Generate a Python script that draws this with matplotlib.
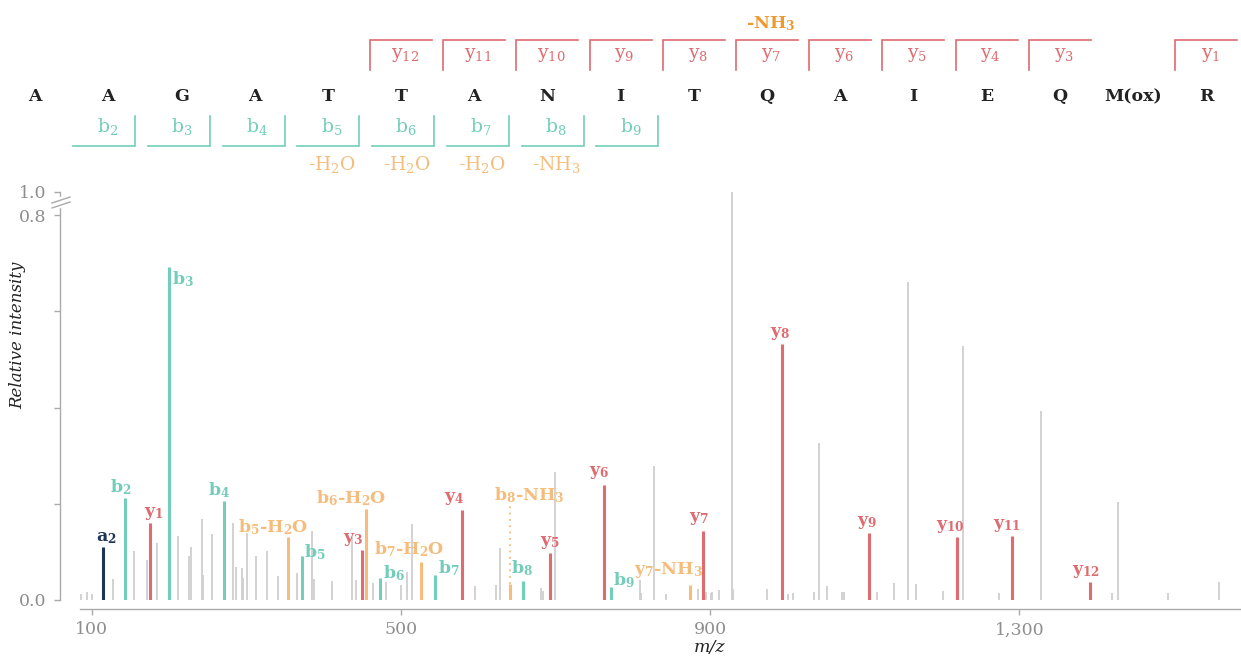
import re
import numpy as np
import matplotlib
matplotlib.use("Agg")
import matplotlib.pyplot as plt

# ---------------- data ----------------
residues = ['A', 'A', 'G', 'A', 'T', 'T', 'A', 'N', 'I', 'T', 'Q', 'A', 'I', 'E', 'Q', 'M(ox)', 'R']
y_bracket_ions = [12, 11, 10, 9, 8, 7, 6, 5, 4, 3, 1]
b_bracket_ions = [2, 3, 4, 5, 6, 7, 8, 9]
b_bracket_losses = {5: '-H2O', 6: '-H2O', 7: '-H2O', 8: '-NH3'}
y_bracket_losses = {7: '-NH3'}

ion_labels = ['a2', 'b2', 'y1', 'b3', 'b4', 'b5-H2O', 'b5', 'y3', 'b6-H2O', 'b6',
              'b7-H2O', 'b7', 'y4', 'b8-NH3', 'b8', 'y5', 'y6', 'b9', 'y7-NH3', 'y7',
              'y8', 'y9', 'y10', 'y11', 'y12']
ion_mz = [115.09, 143.08, 175.12, 200.10, 271.14, 354.18, 372.19, 450.22, 455.23, 473.24,
          526.26, 544.27, 579.26, 641.29, 658.32, 692.35, 763.38, 771.40, 874.41, 891.44,
          992.49, 1105.57, 1219.62, 1290.65, 1391.70]
ion_int = [0.111, 0.211, 0.159, 0.692, 0.206, 0.130, 0.092, 0.104, 0.189, 0.045,
           0.080, 0.052, 0.186, 0.033, 0.039, 0.098, 0.240, 0.026, 0.031, 0.143,
           0.532, 0.139, 0.130, 0.132, 0.037]

other_mz = [85.8, 93.9, 100.0, 127.9, 144.0, 154.3, 171.9, 184.9, 211.3, 225.9,
            228.8, 242.7, 244.0, 255.6, 283.2, 286.3, 294.8, 296.1, 300.9, 312.5,
            327.2, 340.6, 365.2, 385.0, 387.2, 410.9, 437.1, 441.9, 463.5, 481.1,
            500.1, 507.5, 514.7, 595.5, 623.0, 627.8, 681.6, 683.8, 700.0, 809.3,
            810.6, 827.3, 842.9, 883.9, 894.7, 900.8, 902.9, 911.1, 928.3, 929.6,
            973.6, 1001.2, 1007.2, 1034.0, 1041.3, 1051.2, 1070.6, 1072.8, 1115.5, 1137.9,
            1155.6, 1166.7, 1200.9, 1226.8, 1273.7, 1328.5, 1392.6, 1420.3, 1427.7, 1491.9,
            1558.3]
other_int = [0.0125, 0.017, 0.0125, 0.043, 0.038, 0.102, 0.083, 0.118, 0.132, 0.092,
             0.111, 0.168, 0.051, 0.137, 0.160, 0.069, 0.067, 0.046, 0.139, 0.092,
             0.101, 0.050, 0.057, 0.144, 0.044, 0.040, 0.130, 0.042, 0.035, 0.037,
             0.031, 0.058, 0.157, 0.029, 0.031, 0.109, 0.024, 0.019, 0.267, 0.042,
             0.015, 0.279, 0.0125, 0.022, 0.017, 0.015, 0.017, 0.021, 1.0, 0.0235,
             0.023, 0.0125, 0.014, 0.017, 0.327, 0.029, 0.017, 0.017, 0.017, 0.035,
             0.661, 0.033, 0.018, 0.528, 0.014, 0.393, 0.035, 0.014, 0.203, 0.014,
             0.037]

x_ticks = [100, 500, 900, 1300]
x_tick_labels = ['100', '500', '900', '1,300']
y_ticks = [0.0, 0.2, 0.4, 0.6, 0.8, 1.0]
y_tick_labels = ['0.0', '', '', '', '0.8', '1.0']

# ---------------- style ----------------
plt.rcParams['font.family'] = ['DejaVu Serif']
plt.rcParams['mathtext.fontset'] = 'custom'
plt.rcParams['mathtext.rm'] = 'DejaVu Serif'
plt.rcParams['mathtext.it'] = 'DejaVu Serif:italic'
plt.rcParams['mathtext.bf'] = 'DejaVu Serif:bold'

C_B = '#72CDBB'
C_Y = '#DF6B70'
C_LOSS = '#F5BC7C'
C_A = '#1C3557'
C_GRAY = '#CFCFCF'
C_TOPLOSS = '#EE9A2E'
C_AXIS = '#AAAAAA'
C_TICKLBL = '#8E8E8E'
C_TEXT = '#222222'


def ion_color(lbl):
    if '-' in lbl:
        return C_LOSS
    if lbl.startswith('a'):
        return C_A
    if lbl.startswith('b'):
        return C_B
    return C_Y


def mathify(lbl, bold=False):
    def sub(d):
        return '$_{\\mathbf{' + d + '}}$' if bold else '$_{' + d + '}$'
    s = re.sub(r'^([aby])(\d+)', lambda m: m.group(1) + sub(m.group(2)), lbl)
    s = re.sub(r'H(\d)', lambda m: 'H' + sub(m.group(1)), s)
    return s


K = 0.239  # compression of the 0.8-1.0 range


def fwd(v):
    v = np.asarray(v, dtype=float)
    return np.where(v <= 0.8, v, 0.8 + (v - 0.8) * K)


def inv(v):
    v = np.asarray(v, dtype=float)
    return np.where(v <= 0.8, v, 0.8 + (v - 0.8) / K)


W, H = 1241, 657
fig = plt.figure(figsize=(W / 100, H / 100), dpi=100)
ax = fig.add_axes([80 / W, 57 / H, 1160 / W, 408 / H])
ax.set_yscale('function', functions=(fwd, inv))
ax.set_xlim(84.9, 1585.5)
ax.set_ylim(0, 1.0)

ax.vlines(other_mz, 0, other_int, colors=C_GRAY, linewidth=1.3, zorder=1)
ax.vlines(ion_mz, 0, ion_int, colors=[ion_color(l) for l in ion_labels],
          linewidth=2.2, zorder=2)

# label placement (px): mode, dx, dy
PX = 0.72
label_pos = {
    'a2': ('top', 3, 1), 'b2': ('top', -4, 1), 'y1': ('top', 4, 1),
    'b3': ('right', 3, -12), 'b4': ('top', -5, 1), 'b5-H2O': ('top', -15, 0),
    'b5': ('right', 2, 4), 'y3': ('top', -9, 2), 'b6-H2O': ('top', -15, 1),
    'b6': ('right', 3, 5), 'b7-H2O': ('top', -12, 3), 'b7': ('right', 3, 7),
    'y4': ('top', -7.5, 3), 'b8-NH3': ('dotted', 19, 0), 'b8': ('top', -1, 3),
    'y5': ('top', 0, 2), 'y6': ('top', -5, 4), 'b9': ('right', 2, 7),
    'y7-NH3': ('top', -22, 5), 'y7': ('top', -4.5, 4), 'y8': ('top', -1, 2),
    'y9': ('top', -1.5, 2), 'y10': ('top', -6.5, 2), 'y11': ('top', -4.7, 2),
    'y12': ('top', -4, 2),
}
DOTTED_TOP = 0.197
LBL_KW = dict(fontsize=12.5, fontweight='bold', zorder=4, textcoords='offset points')

for lbl, mz, it in zip(ion_labels, ion_mz, ion_int):
    mode, dx, dy = label_pos[lbl]
    col = ion_color(lbl)
    txt = mathify(lbl, bold=True)
    if mode == 'top':
        ax.annotate(txt, xy=(mz, it), xytext=(dx * PX, dy * PX),
                    ha='center', va='bottom', color=col, **LBL_KW)
    elif mode == 'right':
        ax.annotate(txt, xy=(mz, it), xytext=(dx * PX, dy * PX),
                    ha='left', va='center', color=col, **LBL_KW)
    else:
        ax.vlines([mz], it, DOTTED_TOP, colors=col, linewidth=1.3, linestyles=(0, (1, 2.5)), zorder=2)
        ax.annotate(txt, xy=(mz, DOTTED_TOP), xytext=(dx * PX, 0),
                    ha='center', va='bottom', color=col, **LBL_KW)

# axes styling
for s in ['top', 'right']:
    ax.spines[s].set_visible(False)
ax.spines['left'].set_position(('outward', 20 * PX))
ax.spines['bottom'].set_position(('outward', 9 * PX))
for s in ['left', 'bottom']:
    ax.spines[s].set_color(C_AXIS)
    ax.spines[s].set_linewidth(1.0)
ax.set_xticks(x_ticks, x_tick_labels)
ax.set_yticks(y_ticks, y_tick_labels)
ax.yaxis.set_minor_locator(matplotlib.ticker.NullLocator())
ax.tick_params(axis='both', direction='out', length=4, width=1, color=C_AXIS,
               labelcolor=C_TICKLBL, labelsize=12.5)
ax.tick_params(axis='y', pad=6)
ax.tick_params(axis='x', pad=5)
ax.patch.set_alpha(0)

ax.text((710 - 80) / 1160, (600 - 648) / 408, 'm/z', transform=ax.transAxes, style='italic',
        ha='center', va='center', fontsize=12.5, color=C_TEXT)
ax.text((18 - 80) / 1160, (600 - 335) / 408, 'Relative intensity', transform=ax.transAxes,
        style='italic', rotation=90, ha='center', va='center', fontsize=12, color=C_TEXT)

# overlay in pixel coordinates for the sequence map and the axis break
ov = fig.add_axes([0, 0, 1, 1], zorder=5)
ov.set_xlim(0, W)
ov.set_ylim(H, 0)
ov.axis('off')
ov.patch.set_alpha(0)

# axis break
ov.fill([55, 66, 66, 55], [199, 196, 206, 209], color='white', zorder=1)
ov.plot([52, 70], [203, 197], color=C_AXIS, lw=1.0, zorder=2)
ov.plot([52, 70], [208, 202], color=C_AXIS, lw=1.0, zorder=2)

STEP = 73.2
cx = [35 + STEP * i for i in range(len(residues))]
for x, r in zip(cx, residues):
    ov.text(x, 101, r, ha='center', va='baseline', fontsize=12.5, fontweight='bold', color=C_TEXT)

n = len(residues)
for yi in y_bracket_ions:
    j = n - yi
    xv = cx[j] - 31
    ov.plot([xv, xv, xv + 62], [70, 40, 40], color=C_Y, lw=1.2, solid_joinstyle='miter')
    ov.text(xv + 35, 58, mathify('y%d' % yi), ha='center', va='baseline', fontsize=13.5, color=C_Y)
    if yi in y_bracket_losses:
        ov.text(xv + 35, 28.5, mathify(y_bracket_losses[yi], bold=True), ha='center',
                va='baseline', fontsize=12.5, fontweight='bold', color=C_TOPLOSS)

for bi in b_bracket_ions:
    xr = 135.2 + 74.75 * (bi - 2)
    ov.plot([xr - 62, xr, xr], [146, 146, 116], color=C_B, lw=1.2, solid_joinstyle='miter')
    ov.text(xr - 28, 132, mathify('b%d' % bi), ha='center', va='baseline', fontsize=13.5, color=C_B)
    if bi in b_bracket_losses:
        ov.text(xr - 27, 170, mathify(b_bracket_losses[bi]), ha='center', va='baseline',
                fontsize=13.5, color=C_LOSS)

fig.savefig('out.png', dpi=100)
